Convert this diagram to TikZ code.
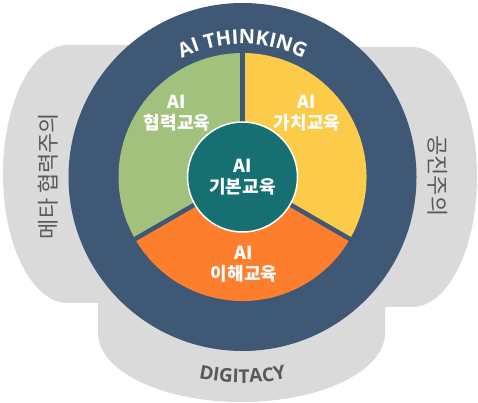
\documentclass[tikz,border=0pt]{standalone}
\usepackage{fontspec}
\setmainfont{Open Sans}
\newfontfamily\krfont{Noto Sans CJK KR}
\usetikzlibrary{decorations.text}
\definecolor{ringblue}{HTML}{3E5876}
\definecolor{lobegray}{HTML}{DADADA}
\definecolor{labelgray}{HTML}{595959}
\definecolor{collabgreen}{HTML}{A2C17D}
\definecolor{valueyellow}{HTML}{FCCB49}
\definecolor{understandorange}{HTML}{FD7F2D}
\definecolor{basicteal}{HTML}{167072}
\tikzset{
    lobe-fill/.style = {fill=lobegray},
    ring-fill/.style = {fill=ringblue},
    sector-gap/.style = {draw=ringblue, line width=4.5pt},
    sector-label/.style = {text=white, align=center, font=\krfont\bfseries\fontsize{18}{21}\selectfont},
    basic-circle/.style = {circle, fill=basicteal, draw=white, line width=1.5pt, minimum size=110pt, inner sep=0pt, sector-label},
    side-label/.style = {text=labelgray, font=\krfont\fontsize{22}{22}\selectfont},
}

\begin{document}
\begin{tikzpicture}[x=1pt, y=1pt]
\useasboundingbox (0,0) rectangle (478,403);
\coordinate (C) at (242.5,226);

% gray lobes behind the ring
\fill[lobe-fill] (68,358) -- (243,358) -- (243,100) -- (68,100) arc[start angle=270, end angle=90, x radius=65, y radius=129];
\fill[lobe-fill] (412,356) -- (243,356) -- (243,96) -- (412,96) arc[start angle=-90, end angle=90, x radius=65, y radius=130];
\fill[lobe-fill] (98,200) -- (98,70) arc[start angle=180, end angle=360, x radius=143.5, y radius=69] -- (385,200) -- cycle;

% ring
\fill[ring-fill] (C) circle (174);

% sectors
\fill[collabgreen] (C) -- ++(90:124) arc[start angle=90, end angle=210, radius=124] -- cycle;
\fill[valueyellow] (C) -- ++(-30:124) arc[start angle=-30, end angle=90, radius=124] -- cycle;
\fill[understandorange] (C) -- ++(210:124) arc[start angle=210, end angle=330, radius=124] -- cycle;
\foreach \a in {90,210,330}
    \draw[sector-gap] (C) -- ++(\a:124.5);

% labels
\node[basic-circle] (basic) at (C) {AI\\기본교육};
\node[sector-label] (collab) at (177,290) {AI\\협력교육};
\node[sector-label] (value) at (307,290) {AI\\가치교육};
\node[sector-label] (understand) at (244,139) {AI\\이해교육};

% curved titles
\path[decorate, decoration={text along path, text align=center, text color=white,
    text={|\bfseries\fontsize{20}{20}\selectfont|AI THINKING}}]
    ([shift={(124:133)}]C) arc[start angle=124, end angle=56, radius=133];
\path[decorate, decoration={text along path, text align=center, text color=labelgray,
    text={|\bfseries\fontsize{19}{19}\selectfont|DIGITACY}}]
    ([shift={(252:206)}]C) arc[start angle=252, end angle=288, radius=206];

% side texts
\node[side-label, rotate=90] (meta) at (48,227) {메타 협력주의};
\node[side-label, rotate=-90] (constr) at (438,227) {공진주의};
\end{tikzpicture}
\end{document}
